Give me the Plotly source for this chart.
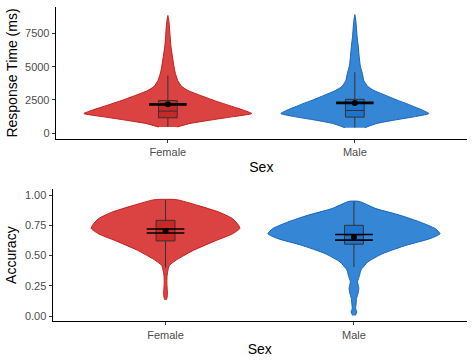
import plotly.graph_objects as go

# ---------------- data ----------------
categories = ["Female", "Male"]
positions = [1, 2]

# Response time violin profiles: value grid (ms) and half-width (x units)
rt_female_y = [450, 720, 970, 1220, 1470, 1716, 1960, 2210, 2460, 2710, 2960, 3210,
               3500, 3955, 4500, 5075, 5800, 6570, 7300, 8060, 8500, 8860]
rt_female_w = [0.048, 0.118, 0.225, 0.342, 0.449, 0.406, 0.353, 0.299, 0.246, 0.198,
               0.150, 0.107, 0.075, 0.053, 0.040, 0.032, 0.024, 0.016, 0.012, 0.008,
               0.005, 0.0]
rt_male_y = [400, 720, 970, 1220, 1470, 1716, 1960, 2210, 2460, 2710, 2960, 3210,
             3500, 3955, 4500, 5075, 5800, 6570, 7300, 8060, 8500, 8930]
rt_male_w = [0.053, 0.118, 0.209, 0.316, 0.396, 0.364, 0.321, 0.278, 0.230, 0.187,
             0.144, 0.102, 0.070, 0.048, 0.040, 0.029, 0.023, 0.018, 0.012, 0.008,
             0.005, 0.0]

# Accuracy violin profiles
acc_female_y = [0.135, 0.16, 0.20, 0.24, 0.283, 0.33, 0.365, 0.42, 0.475, 0.544,
                0.613, 0.68, 0.723, 0.75, 0.805, 0.86, 0.915, 0.962]
acc_female_w = [0.004, 0.009, 0.010, 0.008, 0.007, 0.008, 0.011, 0.021, 0.069, 0.149,
                0.250, 0.356, 0.394, 0.388, 0.356, 0.282, 0.170, 0.058]
acc_male_y = [0.005, 0.035, 0.063, 0.10, 0.146, 0.19, 0.228, 0.26, 0.283, 0.338, 0.38,
              0.448, 0.517, 0.585, 0.64, 0.68, 0.723, 0.777, 0.833, 0.888, 0.948]
acc_male_w = [0.007, 0.015, 0.009, 0.011, 0.014, 0.022, 0.026, 0.022, 0.019, 0.030,
              0.037, 0.074, 0.154, 0.277, 0.404, 0.457, 0.431, 0.351, 0.245, 0.117,
              0.027]

# Box summaries [Female, Male]
rt_q1 = [1150, 1200]
rt_median = [1650, 1700]
rt_q3 = [2450, 2540]
rt_low = [480, 420]
rt_high = [4330, 4580]
rt_mean = [2160, 2270]
rt_ci = [40, 40]

acc_q1 = [0.621, 0.594]
acc_median = [0.72, 0.67]
acc_q3 = [0.791, 0.75]
acc_low = [0.40, 0.406]
acc_high = [0.96, 0.948]
acc_mean = [0.703, 0.651]
acc_ci = [0.017, 0.023]

rt_ticks = [0, 2500, 5000, 7500]
acc_ticks = [0.0, 0.25, 0.5, 0.75, 1.0]
acc_ticklabels = ["0.00", "0.25", "0.50", "0.75", "1.00"]

# ---------------- style ----------------
fills = ["rgb(219,66,66)", "rgb(54,134,214)"]
edges = ["rgb(195,30,30)", "rgb(25,100,190)"]
box_fills = ["rgb(200,40,40)", "rgb(30,115,205)"]
W, H = 474, 364
FONT = "Liberation Sans, Arial, sans-serif"
BOX_HALF = 0.05
BAR_HALF = 0.1

fig = go.Figure()


def add_panel(xa, ya, ys, ws, q1, med, q3, lo, hi, mean, ci):
    for i, pos in enumerate(positions):
        y = ys[i]
        w = ws[i]
        # violin outline
        xs = [pos - v for v in w] + [pos + v for v in reversed(w)]
        yy = list(y) + list(reversed(y))
        fig.add_trace(go.Scatter(x=xs, y=yy, fill="toself", fillcolor=fills[i],
                                 line=dict(color=edges[i], width=1, shape="spline", smoothing=0.5),
                                 mode="lines", hoverinfo="skip", showlegend=False,
                                 xaxis=xa, yaxis=ya))
        # whiskers
        fig.add_trace(go.Scatter(x=[pos, pos, None, pos, pos],
                                 y=[lo[i], q1[i], None, q3[i], hi[i]], mode="lines",
                                 line=dict(color="rgb(50,50,50)", width=1),
                                 hoverinfo="skip", showlegend=False, xaxis=xa, yaxis=ya))
        # box
        bx = [pos - BOX_HALF, pos + BOX_HALF, pos + BOX_HALF, pos - BOX_HALF, pos - BOX_HALF]
        by = [q1[i], q1[i], q3[i], q3[i], q1[i]]
        fig.add_trace(go.Scatter(x=bx, y=by, fill="toself", fillcolor=box_fills[i],
                                 mode="lines", line=dict(color="rgb(50,50,50)", width=1),
                                 hoverinfo="skip", showlegend=False, xaxis=xa, yaxis=ya))
        fig.add_trace(go.Scatter(x=[pos - BOX_HALF, pos + BOX_HALF], y=[med[i], med[i]],
                                 mode="lines", line=dict(color="rgb(50,50,50)", width=1),
                                 hoverinfo="skip", showlegend=False, xaxis=xa, yaxis=ya))
        # mean confidence interval (error bar) and mean point
        ex = [pos - BAR_HALF, pos + BAR_HALF, None, pos - BAR_HALF, pos + BAR_HALF, None, pos, pos]
        ey = [mean[i] - ci[i], mean[i] - ci[i], None, mean[i] + ci[i], mean[i] + ci[i],
              None, mean[i] - ci[i], mean[i] + ci[i]]
        fig.add_trace(go.Scatter(x=ex, y=ey, mode="lines", line=dict(color="black", width=1.6),
                                 hoverinfo="skip", showlegend=False, xaxis=xa, yaxis=ya))
        fig.add_trace(go.Scatter(x=[pos], y=[mean[i]], mode="markers",
                                 marker=dict(color="black", size=6),
                                 hoverinfo="skip", showlegend=False, xaxis=xa, yaxis=ya))


add_panel("x", "y", [rt_female_y, rt_male_y], [rt_female_w, rt_male_w],
          rt_q1, rt_median, rt_q3, rt_low, rt_high, rt_mean, rt_ci)
add_panel("x2", "y2", [acc_female_y, acc_male_y], [acc_female_w, acc_male_w],
          acc_q1, acc_median, acc_q3, acc_low, acc_high, acc_mean, acc_ci)

axis_common = dict(showgrid=False, zeroline=False, showline=True, linecolor="black",
                   linewidth=1, ticks="outside", ticklen=3, tickcolor="rgb(60,60,60)",
                   tickfont=dict(family=FONT, size=11, color="rgb(77,77,77)"),
                   automargin=False)

fig.update_layout(
    width=W, height=H, margin=dict(l=0, r=0, t=0, b=0),
    plot_bgcolor="white", paper_bgcolor="white", showlegend=False,
    xaxis=dict(domain=[55.7 / W, 467 / W], range=[0.4, 2.6], tickvals=positions,
               ticktext=categories, anchor="y",
               title=dict(text="Sex", font=dict(family=FONT, size=14, color="black"), standoff=4),
               **axis_common),
    yaxis=dict(domain=[1 - 139 / H, 1 - 7 / H], range=[-450, 9500], tickvals=rt_ticks,
               anchor="x",
               title=dict(text="Response Time (ms)", font=dict(family=FONT, size=14, color="black"),
                          standoff=4),
               **axis_common),
    xaxis2=dict(domain=[52.5 / W, 467 / W], range=[0.4, 2.6], tickvals=positions,
                ticktext=categories, anchor="y2",
                title=dict(text="Sex", font=dict(family=FONT, size=14, color="black"), standoff=4),
                **axis_common),
    yaxis2=dict(domain=[1 - 321.3 / H, 1 - 189 / H], range=[-0.043, 1.05], tickvals=acc_ticks,
                ticktext=acc_ticklabels, anchor="x2",
                title=dict(text="Accuracy", font=dict(family=FONT, size=14, color="black"),
                           standoff=4),
                **axis_common),
)

fig.write_html("out.html", config={"displayModeBar": False},
               post_script="document.body.style.margin='0';")
